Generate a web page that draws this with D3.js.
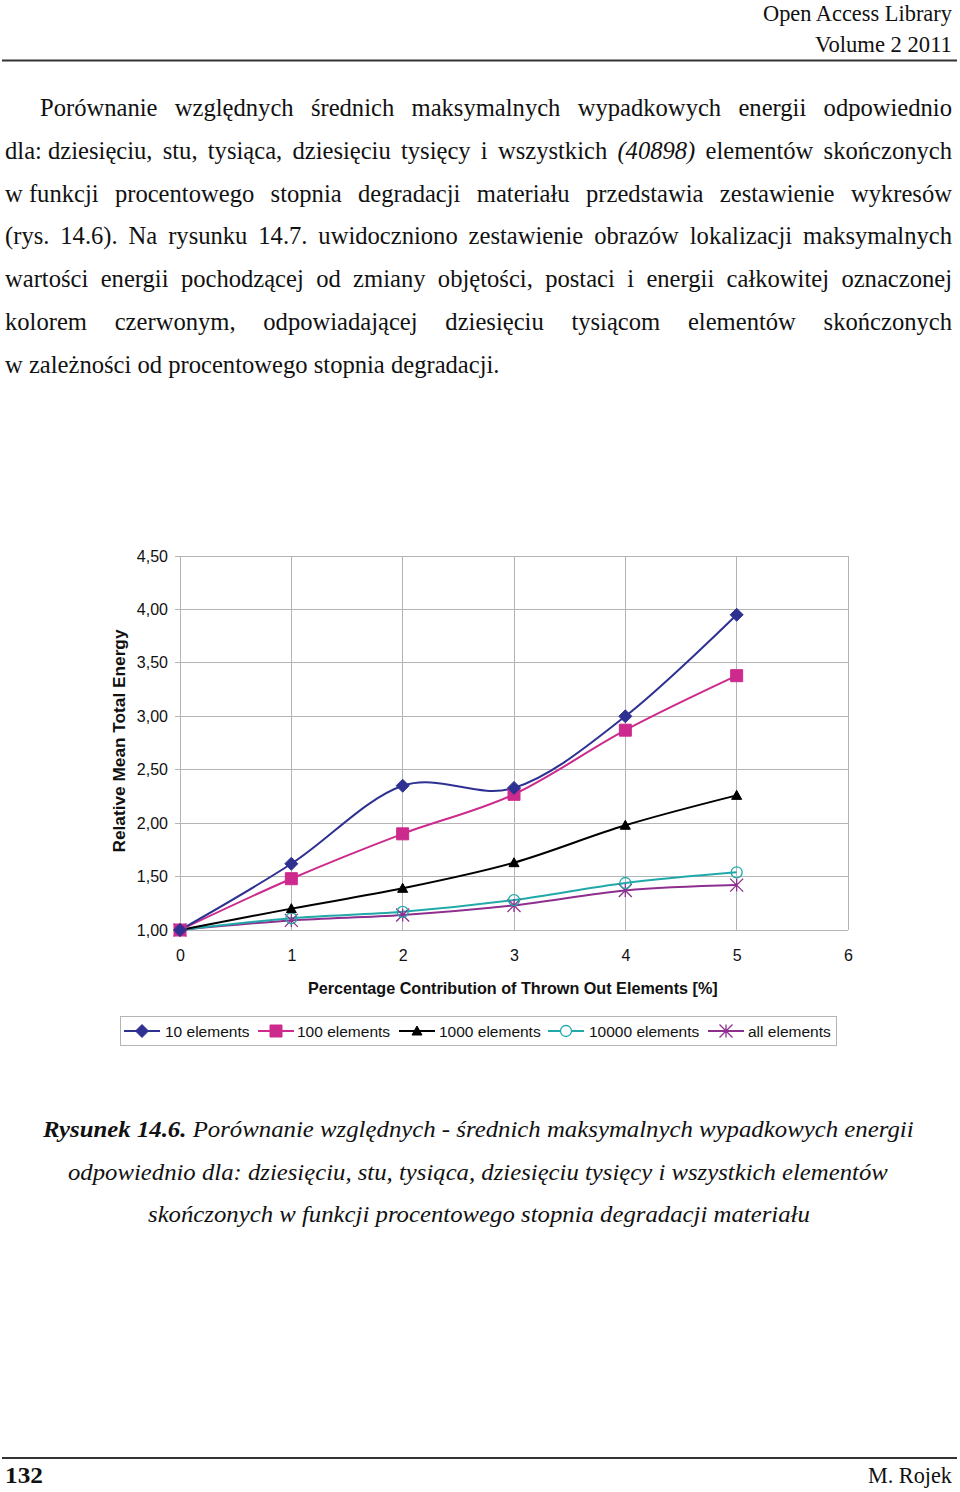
<!DOCTYPE html>
<html>
<head>
<meta charset="utf-8">
<script src="https://cdn.jsdelivr.net/npm/d3@7"></script>
<style>
  html, body { margin: 0; padding: 0; background: #fff; }
  svg { display: block; }
</style>
</head>
<body>
<svg id="page" width="960" height="1492"></svg>
<script>
// ---------------- data ----------------
const categories = [0, 1, 2, 3, 4, 5];
const s10    = [1.00, 1.62, 2.35, 2.33, 3.00, 3.95];
const s100   = [1.00, 1.48, 1.90, 2.27, 2.87, 3.38];
const s1000  = [1.00, 1.20, 1.39, 1.63, 1.98, 2.26];
const s10000 = [1.00, 1.11, 1.17, 1.28, 1.44, 1.54];
const sAll   = [1.00, 1.09, 1.14, 1.23, 1.37, 1.42];
const seriesNames = ["10 elements", "100 elements", "1000 elements", "10000 elements", "all elements"];
const xTicks = [0, 1, 2, 3, 4, 5, 6];
const yTicks = [1.0, 1.5, 2.0, 2.5, 3.0, 3.5, 4.0, 4.5];
const xTitle = "Percentage Contribution of Thrown Out Elements [%]";
const yTitle = "Relative Mean Total Energy";

const paragraphLines = [
  "Porównanie względnych średnich maksymalnych wypadkowych energii odpowiednio",
  "dla:\u00a0dziesięciu, stu, tysiąca, dziesięciu tysięcy i wszystkich *(40898)* elementów skończonych",
  "w\u00a0funkcji procentowego stopnia degradacji materiału przedstawia zestawienie wykresów",
  "(rys. 14.6). Na rysunku 14.7. uwidoczniono zestawienie obrazów lokalizacji maksymalnych",
  "wartości energii pochodzącej od zmiany objętości, postaci i energii całkowitej oznaczonej",
  "kolorem czerwonym, odpowiadającej dziesięciu tysiącom elementów skończonych",
  "w zależności od procentowego stopnia degradacji."
];
const captionLines = [
  ["Rysunek 14.6.", " Porównanie względnych - średnich maksymalnych wypadkowych energii"],
  ["", "odpowiednio dla: dziesięciu, stu, tysiąca, dziesięciu tysięcy i wszystkich elementów"],
  ["", "skończonych w funkcji procentowego stopnia degradacji materiału"]
];

// ---------------- setup ----------------
const svg = d3.select("#page");
svg.append("rect").attr("width", 960).attr("height", 1492).attr("fill", "#fff");
const SERIF = "'Liberation Serif', 'Times New Roman', serif";
const SANS = "'Liberation Sans', Arial, sans-serif";

// fit a text element horizontally between x0 and x1 (anchor start at x0)
function fitWidth(node, x0, x1, baseline) {
  const w = node.getComputedTextLength ? node.getComputedTextLength() : node.getBBox().width;
  const s = (x1 - x0) / w;
  d3.select(node).attr("x", 0).attr("y", 0)
    .attr("transform", `translate(${x0},${baseline}) scale(${s},1)`);
}

// ---------------- header / footer ----------------
const h1 = svg.append("text").attr("font-family", SERIF).attr("font-size", 23)
  .attr("fill", "#111").text("Open Access Library");
fitWidth(h1.node(), 763, 952, 21);
const h2 = svg.append("text").attr("font-family", SERIF).attr("font-size", 23)
  .attr("fill", "#111").text("Volume 2 2011");
fitWidth(h2.node(), 815, 952, 52);
svg.append("line").attr("x1", 2).attr("x2", 957).attr("y1", 60.5).attr("y2", 60.5)
  .attr("stroke", "#333").attr("stroke-width", 2);

svg.append("line").attr("x1", 2).attr("x2", 957).attr("y1", 1458).attr("y2", 1458)
  .attr("stroke", "#333").attr("stroke-width", 2);
const f1 = svg.append("text").attr("font-family", SERIF).attr("font-size", 23)
  .attr("font-weight", "bold").attr("fill", "#111").text("132");
fitWidth(f1.node(), 5, 43, 1483);
const f2 = svg.append("text").attr("font-family", SERIF).attr("font-size", 23)
  .attr("fill", "#111").text("M. Rojek");
fitWidth(f2.node(), 868, 952, 1483);

// ---------------- justified paragraph ----------------
const PFS = 24.6;
const measurer = svg.append("text").attr("font-family", SERIF).attr("font-size", PFS)
  .attr("visibility", "hidden");
function wordWidth(w, italic) {
  measurer.attr("font-style", italic ? "italic" : "normal").text(w);
  return measurer.node().getComputedTextLength();
}
const para = svg.append("g").attr("font-family", SERIF).attr("font-size", PFS).attr("fill", "#111");
paragraphLines.forEach((line, i) => {
  const baseline = 116 + i * 42.8;
  const x0 = i === 0 ? 40 : 5;
  const x1 = 952;
  const words = line.split(" ").map(w => {
    const italic = w.startsWith("*");
    const t = w.replace(/\*/g, "");
    return { t, italic, w: wordWidth(t, italic) };
  });
  const total = d3.sum(words, d => d.w);
  const last = i === paragraphLines.length - 1;
  const gap = last ? wordWidth("\u00a0", false) : (x1 - x0 - total) / (words.length - 1);
  let x = x0;
  const t = para.append("text").attr("y", baseline);
  words.forEach(wd => {
    t.append("tspan").attr("x", x).attr("font-style", wd.italic ? "italic" : null).text(wd.t);
    x += wd.w + gap;
  });
});
measurer.remove();

// ---------------- caption ----------------
const capBounds = [[43, 915, 1137], [68, 888, 1180], [148, 810, 1222]];
captionLines.forEach((parts, i) => {
  const t = svg.append("text").attr("font-family", SERIF).attr("font-size", 24)
    .attr("font-style", "italic").attr("fill", "#111");
  if (parts[0]) t.append("tspan").attr("font-weight", "bold").text(parts[0]);
  t.append("tspan").text(parts[1]);
  const bb = t.node().getBBox();
  const [a, b, base] = capBounds[i];
  const s = (b - a) / bb.width;
  t.attr("transform", `translate(${a},${base}) scale(${s},1)`);
});

// ---------------- chart ----------------
const x = d3.scaleLinear().domain([0, 6]).range([180, 848]);
const y = d3.scaleLinear().domain([1, 4.5]).range([930, 556]);
const chart = svg.append("g");
const GRID = "#b4b4b4";

// grid
chart.append("g").selectAll("line").data(yTicks).join("line")
  .attr("x1", x(0) - 5).attr("x2", x(6)).attr("y1", d => y(d)).attr("y2", d => y(d))
  .attr("stroke", GRID).attr("stroke-width", 1).attr("shape-rendering", "crispEdges");
chart.append("g").selectAll("line").data(xTicks).join("line")
  .attr("x1", d => x(d)).attr("x2", d => x(d)).attr("y1", y(4.5)).attr("y2", y(1))
  .attr("stroke", GRID).attr("stroke-width", 1).attr("shape-rendering", "crispEdges");

// axes labels via d3 axes
const yAxis = d3.axisLeft(y).tickValues(yTicks).tickSize(0).tickPadding(12)
  .tickFormat(d => d3.format(".2f")(d).replace(".", ","));
const gy = chart.append("g").attr("transform", `translate(${x(0)},0)`).call(yAxis);
gy.select(".domain").remove();
gy.selectAll("text").attr("font-family", SANS).attr("font-size", 16).attr("fill", "#111");

const xAxis = d3.axisBottom(x).tickValues(xTicks).tickSize(0).tickPadding(20).tickFormat(d3.format("d"));
const gx = chart.append("g").attr("transform", `translate(0,${y(1)})`).call(xAxis);
gx.select(".domain").remove();
gx.selectAll("text").attr("font-family", SANS).attr("font-size", 16).attr("fill", "#111");

// axis titles
const xt = chart.append("text").attr("font-family", SANS).attr("font-size", 16)
  .attr("font-weight", "bold").attr("fill", "#111").text(xTitle);
fitWidth(xt.node(), 308, 718, 994);

const yt = chart.append("text").attr("font-family", SANS).attr("font-size", 16.5)
  .attr("font-weight", "bold").attr("fill", "#111").attr("text-anchor", "middle")
  .attr("transform", `translate(125,741) rotate(-90)`).text(yTitle)
  .attr("textLength", 223).attr("lengthAdjust", "spacingAndGlyphs");

// series
const colors = ["#2e3192", "#cc2a8c", "#000000", "#21a9a9", "#8e2f8f"];
const allSeries = [s10, s100, s1000, s10000, sAll];

function markerPath(k, size) {
  const h = size / 2;
  switch (k) {
    case 0: return `M0,${-h}L${h},0L0,${h}L${-h},0Z`;
    case 1: return `M${-h},${-h}H${h}V${h}H${-h}Z`;
    case 2: return `M0,${-h}L${h},${h * 0.8}L${-h},${h * 0.8}Z`;
    case 3: return d3.arc()({ innerRadius: 0, outerRadius: h, startAngle: 0, endAngle: 2 * Math.PI });
    case 4: return `M${-h},${-h}L${h},${h}M${-h},${h}L${h},${-h}M0,${-h}V${h}`;
  }
}
const markerSizes = [13, 12, 10, 11, 13];

const line = d3.line().x((d, i) => x(categories[i])).y(d => y(d)).curve(d3.curveCardinal.tension(0));

// draw lines from last to first so 10 elements is on top
const drawOrder = [4, 3, 2, 1, 0];
drawOrder.forEach(k => {
  chart.append("path").datum(allSeries[k]).attr("d", line)
    .attr("fill", "none").attr("stroke", colors[k]).attr("stroke-width", 2);
});
drawOrder.forEach(k => {
  const g = chart.append("g");
  g.selectAll("path").data(allSeries[k]).join("path")
    .attr("transform", (d, i) => `translate(${x(categories[i])},${y(d)})`)
    .attr("d", markerPath(k, markerSizes[k]))
    .attr("fill", (k === 3 || k === 4) ? "none" : colors[k])
    .attr("stroke", colors[k]).attr("stroke-width", k === 3 || k === 4 ? 1.3 : 1);
});

// legend
const legend = svg.append("g");
legend.append("rect").attr("x", 120.5).attr("y", 1016.5).attr("width", 716).attr("height", 29)
  .attr("fill", "#fff").attr("stroke", "#b4b4b4").attr("stroke-width", 1);
const legendLineX = [124, 258, 399, 548, 708];
const legendTextX = [165, 297, 439, 589, 748];
seriesNames.forEach((name, k) => {
  const lx = legendLineX[k];
  legend.append("line").attr("x1", lx).attr("x2", lx + 36).attr("y1", 1031).attr("y2", 1031)
    .attr("stroke", colors[k]).attr("stroke-width", 2);
  legend.append("path").attr("transform", `translate(${lx + 18},1031)`)
    .attr("d", markerPath(k, markerSizes[k]))
    .attr("fill", (k === 3 || k === 4) ? "#fff" : colors[k])
    .attr("stroke", colors[k]).attr("stroke-width", k === 3 || k === 4 ? 1.3 : 1);
  legend.append("text").attr("x", legendTextX[k]).attr("y", 1037)
    .attr("font-family", SANS).attr("font-size", 15.5).attr("fill", "#111").text(name);
});
</script>
</body>
</html>
